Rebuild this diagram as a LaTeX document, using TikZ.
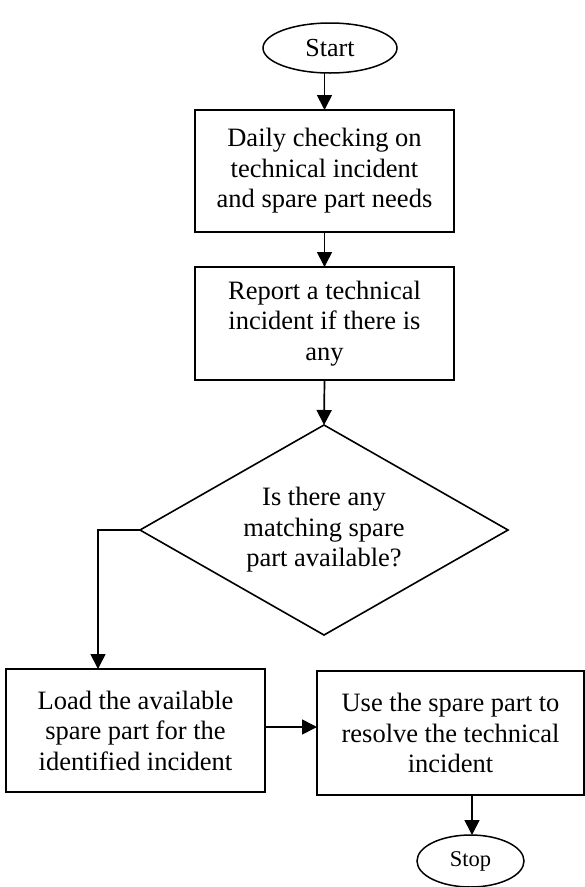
\documentclass[tikz,border=0pt]{standalone}
\usepackage{fontspec}
\setmainfont{Liberation Serif}
\usetikzlibrary{shapes.geometric,arrows.meta,calc}
\begin{document}
\begin{tikzpicture}[x=1pt,y=-1pt,
  every node/.style={inner sep=0pt, outer sep=0pt},
  boxtext/.style={font=\fontsize{26.5pt}{30.5pt}\selectfont, align=center},
  procbox/.style={draw, line width=1.9pt, rectangle, boxtext},
  termnode/.style={draw, line width=1.5pt, ellipse},
  decnode/.style={draw, line width=1.6pt, diamond, aspect=1.75, boxtext},
  arr/.style={line width=1.7pt, -{Triangle[width=15pt,length=15pt]}}]
\useasboundingbox (0,0) rectangle (585,887);

\node[termnode, minimum width=134pt, minimum height=50pt,
      font=\fontsize{26pt}{30pt}\selectfont] (start) at (330,48) {Start};
\node[procbox, minimum width=259pt, minimum height=122pt] (b1) at (324.5,171)
  {Daily checking on\\technical incident\\and spare part needs};
\node[procbox, minimum width=259pt, minimum height=113pt] (b2) at (324.5,323.5)
  {Report a technical\\incident if there is\\any};
\node[decnode, minimum width=368pt, minimum height=210pt] (dec) at (324,530)
  {Is there any\\matching spare\\part available?};
\node[procbox, minimum width=259pt, minimum height=123pt] (b3) at (135.5,730.5)
  {Load the available\\spare part for the\\identified incident};
\node[procbox, minimum width=267pt, minimum height=124pt] (b4) at (450.5,733)
  {Use the spare part to\\resolve the technical\\incident};
\node[termnode, minimum width=107pt, minimum height=52pt,
      font=\fontsize{22.5pt}{26pt}\selectfont] (stop) at (470.5,861) {Stop};

\draw[arr] (b1.north |- start.south) -- (b1.north);
\draw[arr] (b1.south) -- (b2.north);
\draw[arr] (b2.south) -- (dec.north);
\draw[arr] (dec.west) -| ([xshift=-37.5pt]b3.north);
\draw[arr] ([yshift=3.5pt]b3.east) -- ([yshift=3.5pt]b3.east -| b4.west);
\draw[arr] ([xshift=1.5pt]stop.north |- b4.south) -- ([xshift=1.5pt]stop.north);
\end{tikzpicture}
\end{document}
